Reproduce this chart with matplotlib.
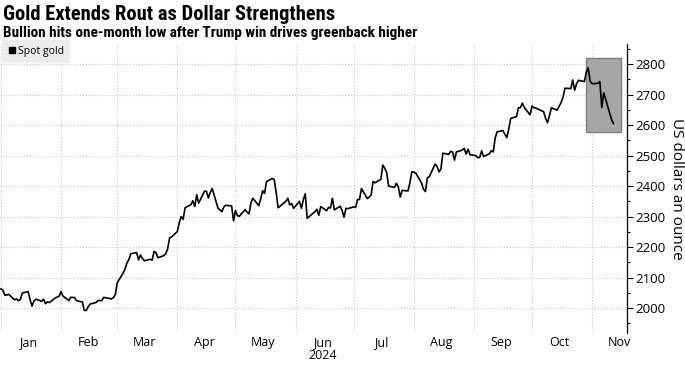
import pandas as pd
import matplotlib
matplotlib.use("Agg")
import matplotlib.pyplot as plt
import matplotlib.dates as mdates
from matplotlib import font_manager
from matplotlib.lines import Line2D
from matplotlib.patches import Rectangle

# spot gold, one close per business day, month by month
jan = [2063, 2058, 2042, 2043, 2045, 2027, 2030, 2024, 2028, 2049, 2054, 2028,
       2006, 2023, 2029, 2022, 2029, 2014, 2020, 2018, 2033, 2036, 2039]
feb = [2054, 2039, 2025, 2035, 2035, 2034, 2024, 2020, 1992, 1992, 2004, 2013,
       2018, 2024, 2025, 2024, 2035, 2031, 2030, 2034, 2044]
mar = [2083, 2114, 2128, 2148, 2159, 2178, 2182, 2158, 2174, 2162, 2155, 2160,
       2157, 2186, 2181, 2165, 2172, 2178, 2194, 2230, 2233]
apr = [2251, 2280, 2300, 2291, 2329, 2339, 2352, 2333, 2372, 2344, 2383, 2383,
       2361, 2379, 2392, 2327, 2322, 2316, 2332, 2337, 2335, 2286]
may = [2320, 2303, 2301, 2323, 2314, 2309, 2346, 2360, 2336, 2358, 2385, 2376,
       2415, 2425, 2421, 2379, 2329, 2334, 2350, 2360, 2338, 2343, 2327]
jun = [2350, 2327, 2355, 2375, 2294, 2311, 2316, 2324, 2304, 2333, 2319, 2330,
       2328, 2360, 2322, 2334, 2320, 2298, 2327, 2326]
jul = [2332, 2330, 2356, 2356, 2392, 2359, 2364, 2371, 2415, 2411, 2422, 2469,
       2459, 2445, 2400, 2396, 2409, 2398, 2364, 2386, 2384, 2411, 2447]
aug = [2446, 2443, 2410, 2390, 2382, 2427, 2431, 2472, 2465, 2447, 2456, 2508,
       2504, 2514, 2512, 2485, 2512, 2518, 2524, 2505, 2521, 2503]
sep = [2500, 2493, 2494, 2516, 2497, 2506, 2516, 2512, 2558, 2578, 2582, 2570,
       2559, 2587, 2622, 2628, 2657, 2657, 2672, 2658, 2634]
oct_ = [2663, 2657, 2656, 2653, 2644, 2622, 2608, 2631, 2657, 2649, 2662, 2674,
        2692, 2721, 2720, 2748, 2715, 2736, 2747, 2743, 2774, 2788, 2744]
nov = [2736, 2737, 2743, 2658, 2706, 2685, 2619, 2605]

months = [jan, feb, mar, apr, may, jun, jul, aug, sep, oct_, nov]

dates = []
values = []
for i, vals in enumerate(months):
    start = pd.Timestamp(2024, i + 1, 1)
    days = pd.bdate_range(start, start + pd.offsets.MonthEnd(0))[:len(vals)]
    dates.extend(days)
    values.extend(vals[:len(days)])

# highlighted window after the election
box_start, box_end = "2024-10-29", "2024-11-16"
box_low, box_high = 2577, 2820

plt.rcParams['font.family'] = ['Open Sans', 'DejaVu Sans']

# pick a narrow font for the headline if there is one
installed = {f.name for f in font_manager.fontManager.ttflist}
narrow_name = None
for cand in ['Roboto Condensed', 'Liberation Sans Narrow', 'Open Sans Condensed',
             'Arial Narrow', 'DejaVu Sans Condensed']:
    if cand in installed:
        narrow_name = cand
        break

fig = plt.figure(figsize=(6.85, 3.67), dpi=100)
ax = fig.add_axes([0.0, 0.0926, 0.9153, 0.7874])

x0 = mdates.date2num(pd.Timestamp(box_start))
x1 = mdates.date2num(pd.Timestamp(box_end))
ax.add_patch(Rectangle((x0, box_low), x1 - x0, box_high - box_low,
                       facecolor='#a6a6a6', edgecolor='#808080', lw=1, zorder=2))
ax.plot(dates, values, color='black', lw=1.2, zorder=3)

ax.set_xlim(pd.Timestamp("2023-12-31 12:00"), pd.Timestamp("2024-11-19"))
ax.set_ylim(1918, 2866)

ax.xaxis.set_major_locator(mdates.MonthLocator(bymonthday=1))
ax.xaxis.set_major_formatter(plt.NullFormatter())
ax.xaxis.set_minor_locator(mdates.MonthLocator(bymonthday=15))
ax.xaxis.set_minor_formatter(
    plt.FuncFormatter(lambda v, p: mdates.num2date(v).strftime('%b') +
                      ('\n2024' if mdates.num2date(v).month == 6 else '')))
ax.tick_params(axis='x', which='both', length=0, labelsize=9, pad=2)
for lbl in ax.xaxis.get_minorticklabels():
    lbl.set_linespacing(1.05)

ax.yaxis.tick_right()
ax.yaxis.set_label_position('right')
ax.set_yticks(range(2000, 2801, 100))
ax.set_yticks(range(1950, 2851, 50), minor=True)
ax.tick_params(axis='y', which='major', length=4, width=0.8, labelsize=9.5, pad=2)
ax.tick_params(axis='y', which='minor', length=2, width=0.8)
ax.set_ylabel('US dollars an ounce', rotation=270, labelpad=13, fontsize=11)

ax.grid(True, which='major', axis='both', color='#c8c8c8', ls=':', lw=0.8)
ax.set_axisbelow(True)
for s in ['top', 'left', 'bottom']:
    ax.spines[s].set_visible(False)
ax.spines['right'].set_linewidth(0.9)

handle = Line2D([], [], marker='s', color='black', ls='none', markersize=5)
leg = ax.legend([handle], ['Spot gold'], loc='upper left', bbox_to_anchor=(0.0, 1.02),
                borderaxespad=0.2, frameon=True, fontsize=7.5, handletextpad=0.2,
                borderpad=0.55, handlelength=0.8, fancybox=False)
leg.get_frame().set_facecolor('#ececec')
leg.get_frame().set_edgecolor('none')
leg.get_frame().set_alpha(1)

if narrow_name:
    head = dict(family=[narrow_name, 'DejaVu Sans'], weight='bold')
    t_size, s_size = 14.8, 11
else:
    head = dict(family=['DejaVu Sans'], weight='bold', fontstretch='condensed')
    t_size, s_size = 10.5, 7.6
title = fig.text(0.005, 1 - 20.5 / 367, 'Gold Extends Rout as Dollar Strengthens',
                 fontsize=t_size, va='baseline', **head)
sub = fig.text(0.005, 1 - 36.5 / 367,
               'Bullion hits one-month low after Trump win drives greenback higher',
               fontsize=s_size, va='baseline', **head)

fig.savefig('out.png', dpi=100)
